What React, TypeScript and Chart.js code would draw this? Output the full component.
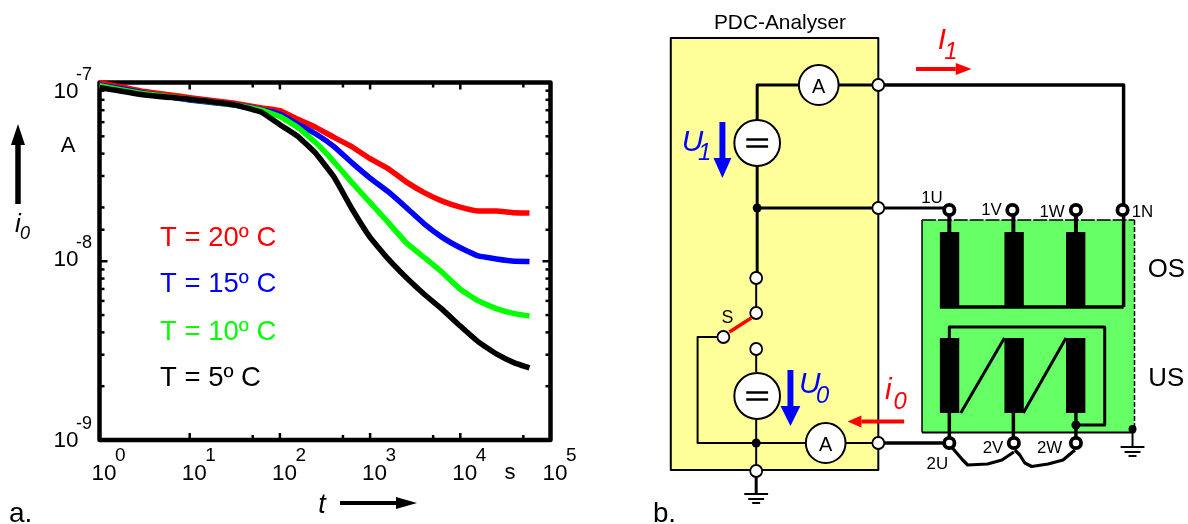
import React, { useEffect, useRef } from "react";
import { Chart, registerables } from "chart.js";

Chart.register(...registerables);

const times = [1, 3.16, 10, 31.6, 63, 100, 158, 251, 398, 631, 1000, 1585, 2512, 3981, 6310, 10000, 15849, 25119, 39811, 58500];
const current20C = [1.0e-7, 8.9e-8, 8.23e-8, 7.65e-8, 7.2e-8, 6.95e-8, 6.22e-8, 5.61e-8, 4.93e-8, 4.37e-8, 3.75e-8, 3.3e-8, 2.78e-8, 2.42e-8, 2.17e-8, 2.01e-8, 1.91e-8, 1.91e-8, 1.87e-8, 1.86e-8];
const current15C = [9.7e-8, 8.71e-8, 7.99e-8, 7.49e-8, 7.05e-8, 6.65e-8, 5.85e-8, 5.15e-8, 4.38e-8, 3.55e-8, 2.92e-8, 2.45e-8, 2.0e-8, 1.62e-8, 1.36e-8, 1.19e-8, 1.07e-8, 1.03e-8, 1.0e-8, 9.98e-9];
const current10C = [9.58e-8, 8.64e-8, 8.06e-8, 7.49e-8, 7.0e-8, 6.45e-8, 5.6e-8, 4.6e-8, 3.6e-8, 2.75e-8, 2.13e-8, 1.65e-8, 1.27e-8, 1.05e-8, 8.65e-9, 6.97e-9, 6.0e-9, 5.43e-9, 5.09e-9, 4.94e-9];
const current5C = [9.37e-8, 8.52e-8, 8.06e-8, 7.49e-8, 6.8e-8, 5.8e-8, 5.0e-8, 4.0e-8, 2.96e-8, 1.96e-8, 1.36e-8, 1.03e-8, 8.11e-9, 6.54e-9, 5.38e-9, 4.34e-9, 3.54e-9, 3.03e-9, 2.7e-9, 2.53e-9];

const seriesLabels = ["T = 20º C", "T = 15º C", "T = 10º C", "T = 5º C"];
const seriesColors = ["#ff0000", "#0000ff", "#00ff00", "#000000"];
const xTickExponents = ["0", "1", "2", "3", "4", "5"];
const yTickExponents = ["-7", "-8", "-9"];
const yLabelShifts = [15, 5, 6.5];
const legendBaselines = [246, 292, 339.5, 386];

const FONT = '"Liberation Sans", Arial, sans-serif';

type C = CanvasRenderingContext2D;

function txt(c: C, s: string, x: number, y: number, size: number, color = "#000", align: CanvasTextAlign = "left", style = "") {
  c.font = `${style} ${size}px ${FONT}`;
  c.fillStyle = color;
  c.textAlign = align;
  c.textBaseline = "alphabetic";
  c.fillText(s, x, y);
}

function seg(c: C, pts: number[], w = 2, color = "#000") {
  c.beginPath();
  c.moveTo(pts[0], pts[1]);
  for (let i = 2; i < pts.length; i += 2) c.lineTo(pts[i], pts[i + 1]);
  c.lineWidth = w;
  c.strokeStyle = color;
  c.lineCap = "butt";
  c.lineJoin = "round";
  c.stroke();
}

function arrow(c: C, x0: number, y0: number, x1: number, y1: number, head: number, half: number, w: number, color: string) {
  const len = Math.hypot(x1 - x0, y1 - y0);
  const ux = (x1 - x0) / len;
  const uy = (y1 - y0) / len;
  const bx = x1 - ux * head;
  const by = y1 - uy * head;
  seg(c, [x0, y0, bx, by], w, color);
  c.beginPath();
  c.moveTo(x1, y1);
  c.lineTo(bx - uy * half, by + ux * half);
  c.lineTo(bx + uy * half, by - ux * half);
  c.closePath();
  c.fillStyle = color;
  c.fill();
}

function disc(c: C, x: number, y: number, r: number, fill: string, lw = 0) {
  c.beginPath();
  c.arc(x, y, r, 0, Math.PI * 2);
  c.fillStyle = fill;
  c.fill();
  if (lw) {
    c.lineWidth = lw;
    c.strokeStyle = "#000";
    c.stroke();
  }
}

function ground(c: C, x: number, y: number) {
  seg(c, [x - 12, y, x + 12, y], 2);
  seg(c, [x - 8, y + 5, x + 8, y + 5], 2);
  seg(c, [x - 4, y + 9, x + 4, y + 9], 2);
}

function source(c: C, x: number, y: number) {
  disc(c, x, y, 23, "#fff", 2);
  seg(c, [x - 11, y - 3.5, x + 11, y - 3.5], 2.5);
  seg(c, [x - 11, y + 3.5, x + 11, y + 3.5], 2.5);
}

function meter(c: C, x: number, y: number) {
  disc(c, x, y, 20, "#fff", 2);
  txt(c, "A", x, y + 7.5, 20, "#000", "center");
}

function sub(c: C, a: string, ax: number, ay: number, b: string, bx: number, by: number, color: string, sa = 30, sb = 24) {
  txt(c, a, ax, ay, sa, color, "center", "italic");
  txt(c, b, bx, by, sb, color, "center", "italic");
}

function drawDiagram(c: C) {
  c.save();
  c.translate(640, 0);
  c.scale(0.993, 1);
  c.translate(-640, 0);

  c.fillStyle = "#ffff99";
  c.fillRect(671, 38, 209, 432);
  c.strokeStyle = "#000";
  c.lineWidth = 2;
  c.strokeRect(671, 38, 209, 432);
  txt(c, "PDC-Analyser", 781, 28.5, 21, "#000", "center");

  c.fillStyle = "#66ff66";
  c.fillRect(924, 220, 214, 212.5);
  seg(c, [924, 432.5, 924, 220], 1.5);
  seg(c, [924, 432.5, 1138, 432.5], 2);
  c.setLineDash([14, 2]);
  seg(c, [924, 220, 1138, 220], 1.5);
  c.setLineDash([5, 2]);
  seg(c, [1138, 220, 1138, 433], 1.5);
  c.setLineDash([]);

  // wiring
  seg(c, [880, 85, 1127, 85, 1127, 307], 3.5);
  seg(c, [758, 120, 758, 85, 880, 85], 3);
  seg(c, [758, 166, 758, 278], 3);
  seg(c, [757, 208, 951, 208], 3);
  seg(c, [757, 278, 757, 313], 2);
  seg(c, [724, 337, 698, 337, 698, 443, 880, 443], 2);
  seg(c, [757, 349, 757, 372], 2);
  seg(c, [757, 418, 757, 471], 2);
  seg(c, [757, 471, 757, 494], 3);
  seg(c, [880, 443, 951, 443], 3.5);
  ground(c, 757, 494);
  seg(c, [1136, 428, 1136, 447], 2);
  disc(c, 1136, 429, 4, "#000");
  ground(c, 1136, 447);

  // transformer windings
  const coils = [942, 1007, 1069];
  const stems = [951.5, 1016, 1079];
  stems.forEach((x) => {
    seg(c, [x, 210, x, 232], 4);
    seg(c, [x, 413, x, 443], 3.5);
  });
  coils.forEach((x) => {
    c.fillStyle = "#000";
    c.fillRect(x, 232, 19.5, 75);
    c.fillRect(x, 338, 19.5, 75);
  });
  seg(c, [942, 307, 1127, 307], 3.5);
  seg(c, [951.5, 338, 951.5, 327, 1108, 327, 1108, 425, 1079, 425], 3);
  seg(c, [963, 413, 1007, 338], 3);
  seg(c, [1026, 413, 1069, 338], 3);
  disc(c, 1079, 425, 4.5, "#000");

  seg(c, [952, 445, 965, 460, 970, 465, 990, 464, 1004.5, 460, 1016.5, 452], 3.2);
  seg(c, [1017.5, 450, 1022.5, 455, 1027.5, 463, 1034.5, 466.5, 1051, 464, 1066, 460, 1078, 450], 3.2);

  // terminals
  [[951.5, 210], [1015, 210], [1079, 210], [1126, 210], [951.5, 443], [1016.5, 443], [1079, 443]].forEach(([x, y]) => {
    disc(c, x, y, 5.2, "#fff", 3.8);
  });
  [[880, 85], [880, 208], [757, 278], [757, 313], [724, 337], [757, 349], [757, 471], [880, 443]].forEach(([x, y]) => {
    disc(c, x, y, 6, "#fff", 1.8);
  });
  disc(c, 758, 208, 4.5, "#000");
  disc(c, 757, 443, 4.5, "#000");

  source(c, 758, 143);
  source(c, 758, 396);
  meter(c, 820, 85);
  meter(c, 827, 443);

  // switch
  seg(c, [752, 318, 730, 332], 3.5, "#ff0000");
  txt(c, "S", 728, 323, 18, "#000", "center");

  // currents and voltages
  arrow(c, 918, 69, 974, 69, 16, 6, 4, "#ff0000");
  sub(c, "I", 944, 49, "1", 953, 59, "#ff0000");
  arrow(c, 723, 122, 723, 178, 20, 9, 6, "#0000ff");
  sub(c, "U", 693, 151, "1", 705, 160, "#0000ff");
  arrow(c, 791.5, 370, 791.5, 426, 20, 10, 6, "#0000ff");
  sub(c, "U", 811, 393, "0", 824, 403, "#0000ff");
  arrow(c, 906, 421.5, 849, 421.5, 14, 6, 4, "#ff0000");
  sub(c, "i", 890, 399, "0", 902, 409, "#ff0000");

  // terminal labels
  txt(c, "1U", 934, 203, 17, "#000", "center");
  txt(c, "1V", 994, 215, 17, "#000", "center");
  txt(c, "1W", 1055, 217, 17, "#000", "center");
  txt(c, "1N", 1146, 217, 17, "#000", "center");
  txt(c, "2U", 939.5, 469, 17, "#000", "center");
  txt(c, "2V", 995.5, 452.5, 17, "#000", "center");
  txt(c, "2W", 1052.5, 452.5, 17, "#000", "center");
  txt(c, "OS", 1170, 277, 26, "#000", "center");
  txt(c, "US", 1170, 386, 26, "#000", "center");
  txt(c, "b.", 653, 522, 28);
  c.restore();
}

const decorations = {
  id: "decorations",
  beforeDatasetsDraw(chart: any) {
    const c: C = chart.ctx;
    const { left, right, top, bottom } = chart.chartArea;
    c.save();
    const x = chart.scales.x;
    const y = chart.scales.y;
    const isMajor = (v: number) => Math.abs(Math.log10(v) - Math.round(Math.log10(v))) < 1e-6;
    x.ticks.forEach((t: any) => {
      const px = x.getPixelForValue(t.value);
      const l = isMajor(t.value) ? 7 : 5;
      seg(c, [px, top, px, top + l], 2.5);
      seg(c, [px, bottom, px, bottom - l], 2.5);
    });
    y.ticks.forEach((t: any) => {
      const py = y.getPixelForValue(t.value);
      const l = isMajor(t.value) ? 8 : 5;
      seg(c, [left, py, left + l, py], 2.5);
      seg(c, [right, py, right - l, py], 2.5);
    });
    c.lineWidth = 4.5;
    c.strokeStyle = "#000";
    c.strokeRect(left, top, right - left, bottom - top);
    c.restore();
  },
  afterDraw(chart: any) {
    const c: C = chart.ctx;
    c.save();
    const x = chart.scales.x;
    const y = chart.scales.y;
    xTickExponents.forEach((e) => {
      const px = x.getPixelForValue(Math.pow(10, Number(e)));
      txt(c, "10", px - 8, 479.5, 22.5);
      txt(c, e, px + 15.5, 461, 19);
    });
    yTickExponents.forEach((e, i) => {
      const py = y.getPixelForValue(Math.pow(10, Number(e)));
      txt(c, "10", 53.5, py + yLabelShifts[i], 22.5);
      txt(c, e, 76, py + yLabelShifts[i] - 18, 18);
    });
    chart.data.datasets.forEach((d: any, i: number) => {
      txt(c, d.label, 160, legendBaselines[i], 27.5, d.borderColor);
    });
    txt(c, "A", 68, 151.5, 22, "#000", "center");
    arrow(c, 18, 204, 18, 124, 21, 7, 5.5, "#000");
    txt(c, "i", 18, 232, 26, "#000", "center", "italic");
    txt(c, "0", 25, 239, 18, "#000", "center", "italic");
    txt(c, "t", 322, 513, 27, "#000", "center", "italic");
    arrow(c, 340, 503, 417, 503, 21, 6, 4, "#000");
    txt(c, "s", 510, 479, 22, "#000", "center");
    txt(c, "a.", 9, 522, 28);
    drawDiagram(c);
    c.restore();
  },
};

export default function App() {
  const ref = useRef<HTMLCanvasElement>(null);
  useEffect(() => {
    document.body.style.margin = "0";
    const all = [current20C, current15C, current10C, current5C];
    const chart = new Chart(ref.current as HTMLCanvasElement, {
      type: "line",
      data: {
        datasets: all.map((vals, i) => ({
          label: seriesLabels[i],
          data: vals.map((v, k) => ({ x: times[k], y: v })),
          borderColor: seriesColors[i],
          borderWidth: 5.5,
          pointRadius: 0,
          tension: 0.1,
          clip: false as any,
          order: all.length - i,
        })),
      },
      options: {
        animation: false,
        responsive: false,
        devicePixelRatio: 1,
        layout: { padding: { left: 99.5, top: 82.5, right: 1188 - 550.5, bottom: 524 - 440 } },
        plugins: { legend: { display: false }, tooltip: { enabled: false }, title: { display: false } },
        scales: {
          x: { type: "logarithmic", display: false, min: 1, max: 100000 },
          y: { type: "logarithmic", display: false, min: 1e-9, max: 1e-7 },
        },
      },
      plugins: [decorations],
    });
    return () => chart.destroy();
  }, []);
  return (
    <div style={{ position: "absolute", left: 0, top: 0, width: 1188, height: 524, background: "#fff" }}>
      <canvas ref={ref} width={1188} height={524} style={{ display: "block" }} />
    </div>
  );
}
